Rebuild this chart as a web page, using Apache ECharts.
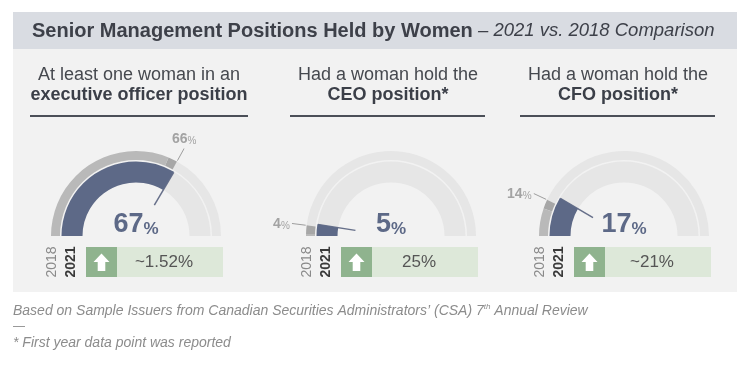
<!DOCTYPE html>
<html><head><meta charset="utf-8">
<script src="https://cdn.jsdelivr.net/npm/echarts@6/dist/echarts.min.js"></script>
<style>html,body{margin:0;padding:0;background:#fff}#c{width:749px;height:369px}</style>
</head><body><div id="c"></div>
<script>
// ---- data ----
const titleLine1 = ['At least one woman in an', 'Had a woman hold the', 'Had a woman hold the'];
const titleLine2 = ['executive officer position', 'CEO position*', 'CFO position*'];
const yearLabels = ['2018', '2021'];
const share2018 = [66, 4, 14];
const share2021 = [67, 5, 17];
const changeLabels = ['~1.52%', '25%', '~21%'];
const headerBold = 'Senior Management Positions Held by Women';
const headerItalic = ' \u2013 2021 vs. 2018 Comparison';

// ---- layout ----
const F = '"Liberation Sans", Arial, Helvetica, sans-serif';
const CX = [136, 391, 624];
const CY = 236;
const TITLE_X = [139, 388, 618];
const RULE = [[30, 248], [290, 485], [520, 715]];
const C2021 = '#5d6987', C2018 = '#b9b9b9', C2018END = '#a7a7a7', TRACK = '#e6e6e6';

const chart = echarts.init(document.getElementById('c'), null, {renderer: 'canvas'});

const graphic = [
  {type: 'rect', shape: {x: 13, y: 12, width: 724, height: 37}, style: {fill: '#d9dce2'}, z: -10},
  {type: 'rect', shape: {x: 13, y: 49, width: 724, height: 243}, style: {fill: '#f2f2f2'}, z: -10},
  {type: 'text', x: 32, y: 31, z: 5, style: {
    text: '{b|' + headerBold + '}{i|' + headerItalic + '}',
    verticalAlign: 'middle',
    rich: {
      b: {fontSize: 20, fontWeight: 'bold', fontFamily: F, fill: '#3d4049'},
      i: {fontSize: 18.5, fontStyle: 'italic', fontFamily: F, fill: '#3d4049'}
    }}},
  {type: 'text', x: 13, y: 311, style: {
    text: '{a|Based on Sample Issuers from Canadian Securities Administrators\u2019 (CSA) 7}{s|th}{a| Annual Review}',
    verticalAlign: 'middle',
    rich: {
      a: {fontSize: 14, fontStyle: 'italic', fontFamily: F, fill: '#8c8c8c', lineHeight: 17},
      s: {fontSize: 8, fontStyle: 'italic', fontFamily: F, fill: '#8c8c8c', verticalAlign: 'top', lineHeight: 17}
    }}},
  {type: 'text', x: 13, y: 327, style: {text: '\u2014', fontSize: 12, fontFamily: F, fill: '#8c8c8c', verticalAlign: 'middle'}},
  {type: 'text', x: 13, y: 343, style: {text: '* First year data point was reported', fontSize: 14, fontStyle: 'italic', fontFamily: F, fill: '#8c8c8c', verticalAlign: 'middle'}}
];

const series = [];
const polar = [], angleAxis = [], radiusAxis = [];

for (let i = 0; i < 3; i++) {
  const cx = CX[i];
  graphic.push(
    {type: 'text', x: TITLE_X[i], y: 75, style: {text: titleLine1[i], fontSize: 18, fontFamily: F, fill: '#46494f', align: 'center', verticalAlign: 'middle'}},
    {type: 'text', x: TITLE_X[i], y: 95, style: {text: titleLine2[i], fontSize: 18, fontWeight: 'bold', fontFamily: F, fill: '#3b3f48', align: 'center', verticalAlign: 'middle'}},
    {type: 'line', shape: {x1: RULE[i][0], y1: 116, x2: RULE[i][1], y2: 116}, style: {stroke: '#4b4f58', lineWidth: 2}},
    {type: 'text', x: cx - 84, y: 262, rotation: Math.PI / 2, style: {text: yearLabels[0], fontSize: 14, fontFamily: F, fill: '#8a8a8a', align: 'center', verticalAlign: 'middle'}},
    {type: 'text', x: cx - 65, y: 262, rotation: Math.PI / 2, style: {text: yearLabels[1], fontSize: 14, fontWeight: 'bold', fontFamily: F, fill: '#3a3a3a', align: 'center', verticalAlign: 'middle'}},
    {type: 'rect', shape: {x: cx - 50, y: 247, width: 31, height: 30}, style: {fill: '#8fb38e'}},
    {type: 'rect', shape: {x: cx - 19, y: 247, width: 106, height: 30}, style: {fill: '#dde8d9'}},
    {type: 'polygon', x: cx - 34.5, y: 262, shape: {points: [[0, -8.5], [8, 0], [3.8, 0], [3.8, 9], [-3.8, 9], [-3.8, 0], [-8, 0]]}, style: {fill: '#ffffff'}},
    {type: 'text', x: cx + 28, y: 262, style: {text: changeLabels[i], fontSize: 17, fontFamily: F, fill: '#555555', align: 'center', verticalAlign: 'middle'}}
  );

  const v18 = share2018[i], v21 = share2021[i];
  const common = {
    type: 'gauge', center: [cx, CY], startAngle: 180, endAngle: 0, min: 0, max: 100,
    splitLine: {show: false}, axisTick: {show: false}, axisLabel: {show: false},
    anchor: {show: false}, title: {show: false}, silent: true
  };
  series.push(Object.assign({}, common, {
    radius: 85,
    axisLine: {lineStyle: {width: 9, color: [[Math.max(0, v18 - 3.5) / 100, C2018], [v18 / 100, C2018END], [1, TRACK]]}},
    progress: {show: false}, pointer: {show: false}, detail: {show: false},
    data: [{value: v18, name: yearLabels[0]}]
  }));
  series.push(Object.assign({}, common, {
    radius: 74.5,
    axisLine: {lineStyle: {width: 21, color: [[1, TRACK]]}},
    progress: {show: true, width: 21, itemStyle: {color: C2021}},
    pointer: {show: true, icon: 'rect', length: 38, width: 1.5, offsetCenter: [0, -36], itemStyle: {color: '#67708a'}},
    detail: {show: true, offsetCenter: [0, -13], valueAnimation: false,
      formatter: function (v) { return '{v|' + v + '}{p|%}'; },
      rich: {
        v: {fontSize: 27, fontWeight: 'bold', fontFamily: F, color: C2021, lineHeight: 30, verticalAlign: 'bottom'},
        p: {fontSize: 17, fontFamily: F, color: C2021, lineHeight: 22, verticalAlign: 'bottom'}
      }},
    data: [{value: v21, name: yearLabels[1]}]
  }));

  polar.push({center: [cx, CY], radius: 100});
  angleAxis.push({polarIndex: i, type: 'value', min: 0, max: 200, startAngle: 180, clockwise: true, show: false});
  radiusAxis.push({polarIndex: i, type: 'value', min: 0, max: 100, show: false});
  series.push({
    type: 'line', coordinateSystem: 'polar', polarIndex: i, symbol: 'none', silent: true,
    lineStyle: {color: '#9d9d9d', width: 1},
    data: [[86, v18], [100, v18]]
  });
  series.push({
    type: 'scatter', coordinateSystem: 'polar', polarIndex: i, symbolSize: 0, silent: true,
    data: [[100, v18]],
    label: {show: true, position: v18 > 40 ? 'top' : 'left', distance: 2,
      formatter: '{n|' + v18 + '}{p|%}',
      rich: {
        n: {fontSize: 14, fontWeight: 'bold', fontFamily: F, color: '#8e8e8e', verticalAlign: 'bottom', lineHeight: 16},
        p: {fontSize: 10, fontFamily: F, color: '#8e8e8e', verticalAlign: 'bottom', lineHeight: 13}
      }}
  });
}

chart.setOption({
  animation: false,
  backgroundColor: '#ffffff',
  polar: polar, angleAxis: angleAxis, radiusAxis: radiusAxis,
  graphic: graphic,
  series: series
});
</script></body></html>
